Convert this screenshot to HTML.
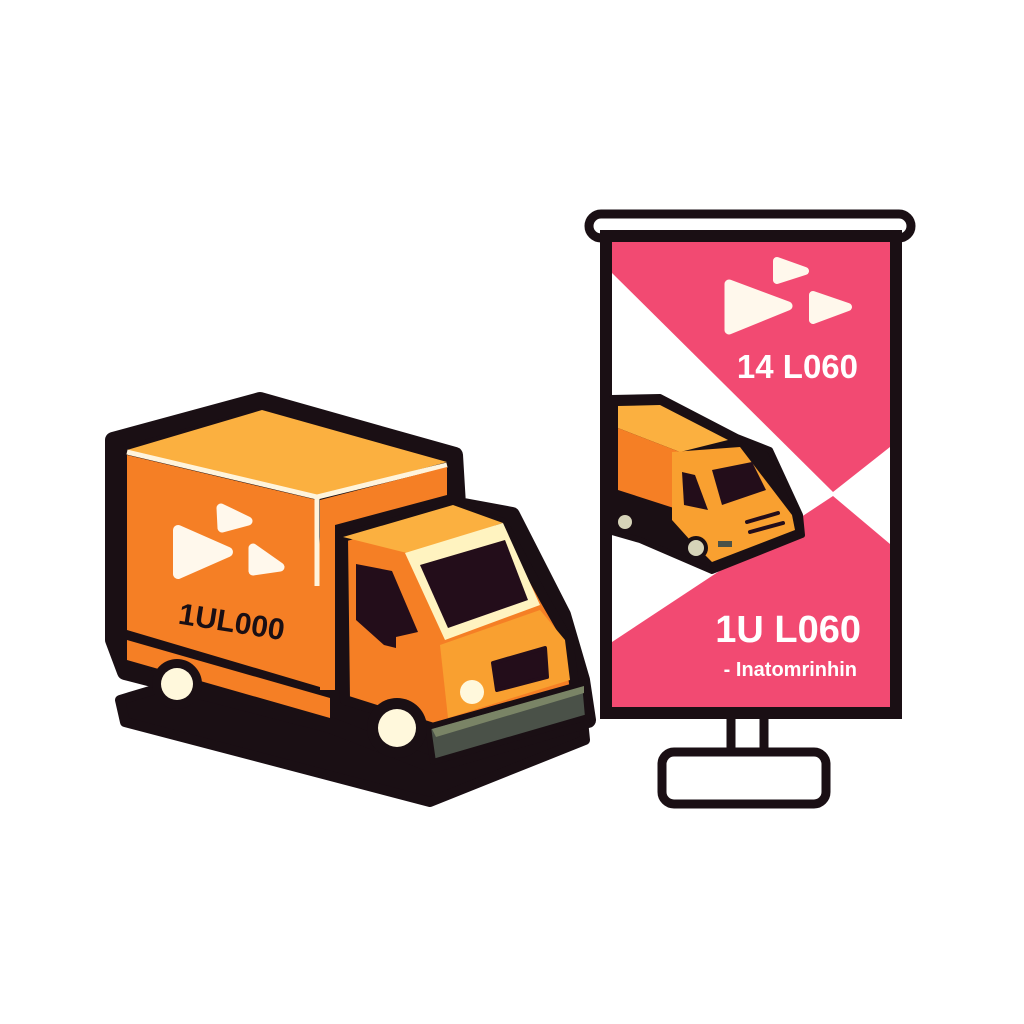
<!DOCTYPE html>
<html><head><meta charset="utf-8"><style>html,body{margin:0;padding:0;background:#fff;width:1024px;height:1024px;overflow:hidden}</style></head>
<body>
<svg width="1024" height="1024" viewBox="0 0 1024 1024" xmlns="http://www.w3.org/2000/svg">
<!-- shadow -->
<polygon points="120,700 160,688 430,728 580,690 585,740 430,802 125,722" fill="#1a0f14" stroke="#1a0f14" stroke-width="10" stroke-linejoin="round"/>
<!-- truck silhouette -->
<polygon points="113,440 260,400 455,455 458,505 512,515 563,615 582,680 588,720 433,765 330,725 125,672 113,640" fill="#1a0f14" stroke="#1a0f14" stroke-width="16" stroke-linejoin="round"/>
<!-- box left face -->
<polygon points="127,455 317,500 330,690 127,630" fill="#F57F25"/>
<polygon points="127,640 330,698 330,718 127,660" fill="#F57F25"/>
<!-- box top -->
<polygon points="127,450 262,410 447,462 317,497" fill="#FBB040"/>
<polyline points="127,452 317,497 447,465" fill="none" stroke="#FFF4DC" stroke-width="5"/>
<line x1="317" y1="497" x2="317" y2="586" stroke="#FFF4DC" stroke-width="5"/>
<!-- box right face -->
<polygon points="320,500 447,467 447,495 335,525 335,690 320,690" fill="#F57F25"/>
<!-- logo box -->
<polygon points="178,530 228,552 178,574" fill="#FFF8EC" stroke="#FFF8EC" stroke-width="10" stroke-linejoin="round"/>
<polygon points="221,508 248,521 222,528" fill="#FFF8EC" stroke="#FFF8EC" stroke-width="9" stroke-linejoin="round"/>
<polygon points="253,548 280,567 253,571" fill="#FFF8EC" stroke="#FFF8EC" stroke-width="9" stroke-linejoin="round"/>
<text x="232" y="632" font-family="Liberation Sans, sans-serif" font-weight="bold" font-size="30" fill="#1a0f14" text-anchor="middle" transform="rotate(9 232 620)">1UL000</text>
<!-- cab -->
<polygon points="343,537 453,505 503,523 545,600 568,640 575,690 440,730 345,700" fill="#F57F25" stroke="#1a0f14" stroke-width="10" stroke-linejoin="round"/>
<polygon points="343,537 453,505 503,523 407,553" fill="#FBB040"/>
<polygon points="405,553 503,523 540,605 445,640" fill="#FFF3C0"/>
<polygon points="420,565 505,540 528,600 448,628" fill="#230D1A"/>
<polygon points="356,564 392,571 418,632 396,637 396,648 384,645 356,620" fill="#230D1A"/>
<polygon points="440,645 540,610 565,640 570,680 448,718" fill="#F9A030"/>
<polygon points="493,663 545,648 547,677 497,690" fill="#230D1A" stroke="#230D1A" stroke-width="4" stroke-linejoin="round"/>
<circle cx="472" cy="692" r="12" fill="#FFF8DC"/>
<!-- bumper -->
<polygon points="428,727 585,683 588,717 433,762" fill="#4A5148" stroke="#1a0f14" stroke-width="6" stroke-linejoin="round"/>
<polygon points="432,729 584,686 584,693 436,737" fill="#7A8466"/>
<!-- wheels -->
<circle cx="177" cy="684" r="25" fill="#1a0f14"/><circle cx="177" cy="684" r="16" fill="#FFF8DC"/>
<circle cx="397" cy="728" r="30" fill="#1a0f14"/><circle cx="397" cy="728" r="19" fill="#FFF8DC"/>

<!-- banner stand -->
<rect x="589" y="214" width="322" height="24" rx="12" fill="#fff" stroke="#1a0f14" stroke-width="9"/>
<rect x="731" y="714" width="33" height="42" fill="#fff" stroke="#1a0f14" stroke-width="9"/>
<rect x="662" y="752" width="164" height="52" rx="12" fill="#fff" stroke="#1a0f14" stroke-width="9"/>
<rect x="606" y="236" width="290" height="477" fill="#fff" stroke="#1a0f14" stroke-width="12"/>
<polygon points="612,242 890,242 890,447 833,492 612,273" fill="#F24A72"/>
<polygon points="612,642 833,496 890,544 890,707 612,707" fill="#F24A72"/>
<!-- banner logo -->
<polygon points="729,284 788,306 729,330" fill="#FFF8EC" stroke="#FFF8EC" stroke-width="9" stroke-linejoin="round"/>
<polygon points="777,261 805,271 777,280" fill="#FFF8EC" stroke="#FFF8EC" stroke-width="8" stroke-linejoin="round"/>
<polygon points="813,295 848,307 813,320" fill="#FFF8EC" stroke="#FFF8EC" stroke-width="8" stroke-linejoin="round"/>
<text x="858" y="378" font-family="Liberation Sans, sans-serif" font-weight="bold" font-size="33" fill="#fff" text-anchor="end">14 L060</text>
<text x="861" y="642" font-family="Liberation Sans, sans-serif" font-weight="bold" font-size="38" fill="#fff" text-anchor="end">1U L060</text>
<text x="857" y="676" font-family="Liberation Sans, sans-serif" font-weight="bold" font-size="20" fill="#fff" text-anchor="end">- Inatomrinhin</text>
<!-- mini truck -->
<polygon points="612,398 660,397 737,437 770,450 800,515 802,535 712,571 640,540 612,532" fill="#1a0f14" stroke="#1a0f14" stroke-width="6" stroke-linejoin="round"/>
<polygon points="618,406 660,405 728,440 680,452 618,428" fill="#FBB040"/>
<polygon points="618,428 680,452 680,510 618,490" fill="#F57F25"/>
<polygon points="672,452 740,447 792,515 795,530 712,562 690,540 672,520" fill="#F9A030"/>
<polygon points="712,470 752,462 766,490 722,505" fill="#230D1A"/>
<polygon points="682,472 695,475 708,510 684,505" fill="#230D1A"/>
<line x1="747" y1="522" x2="778" y2="513" stroke="#230D1A" stroke-width="4" stroke-linecap="round"/>
<line x1="750" y1="532" x2="783" y2="523" stroke="#230D1A" stroke-width="4" stroke-linecap="round"/>
<rect x="718" y="541" width="14" height="6" fill="#4A5148"/>
<circle cx="625" cy="522" r="10" fill="#1a0f14"/><circle cx="625" cy="522" r="7" fill="#D6D3B8"/>
<circle cx="696" cy="548" r="12" fill="#1a0f14"/><circle cx="696" cy="548" r="8" fill="#D6D3B8"/>
</svg>
</body></html>
